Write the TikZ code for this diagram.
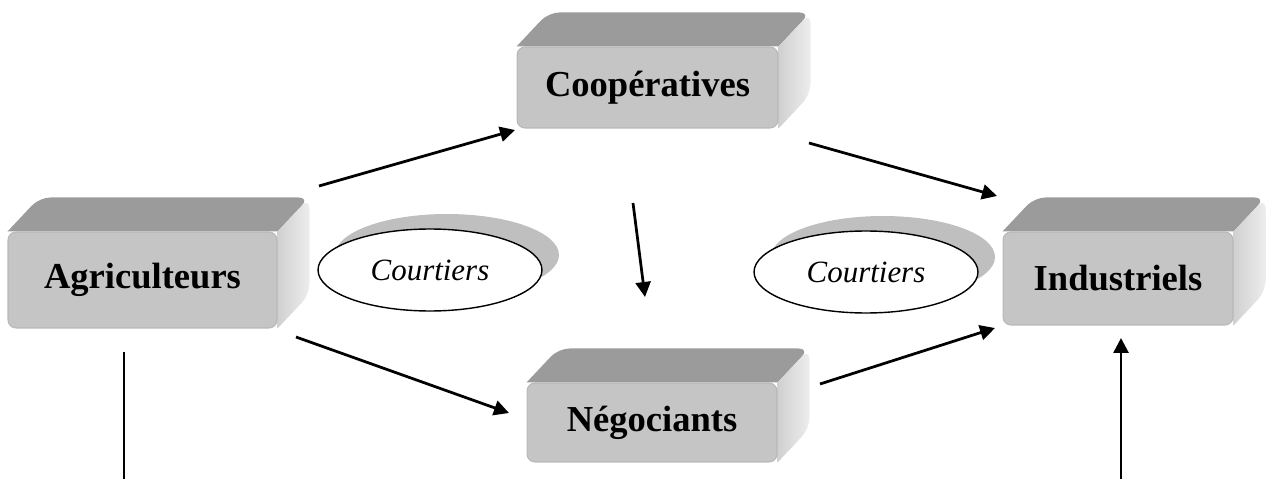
\documentclass[tikz,border=0pt]{standalone}
\usepackage{fontspec}
\setmainfont{Liberation Serif}
\usetikzlibrary{arrows.meta,shapes.geometric,shadows,backgrounds}

\definecolor{facegris}{HTML}{C5C5C5}
\definecolor{dessusgris}{HTML}{9B9B9B}
\definecolor{cotegris}{HTML}{D0D0D0}
\definecolor{cotegrisclair}{HTML}{EDEDED}

% faces arriere d'un bloc (dessus + cote)
\newcommand{\faces}[1]{%
  \fill[dessusgris] (#1.north west) [rounded corners=0.22cm]
     -- ([shift={(32,-34)}]#1.north west) -- ([shift={(32,-34)}]#1.north east)
     [sharp corners] -- (#1.north east) -- cycle;
  \shade[left color=cotegris,right color=cotegrisclair] (#1.north east) [rounded corners=0.22cm]
     -- ([shift={(32,-34)}]#1.north east) -- ([shift={(32,-34)}]#1.south east)
     [sharp corners] -- (#1.south east) -- cycle;
}

\begin{document}
\begin{tikzpicture}[x=0.02cm,y=-0.02cm,
    acteur/.style={rectangle,rounded corners=0.16cm,fill=facegris,draw=black!28,
        line width=0.6pt,inner sep=0pt,font=\fontsize{20.8}{25}\selectfont\bfseries},
    courtier/.style={ellipse,draw,fill=white,line width=0.8pt,inner sep=0pt,
        minimum width=4.48cm,minimum height=1.64cm,font=\fontsize{17.6}{21}\selectfont\itshape,
        drop shadow={shadow xshift=0.34cm,shadow yshift=0.3cm,fill=black!25,opacity=1}},
    flux/.style={line width=0.055cm,-{Triangle[length=0.3cm,width=0.3cm]}}]
%\draw (0,0) rectangle (1266,479);
\useasboundingbox (0,0) rectangle (1266,479);

\node[acteur,minimum width=5.38cm,minimum height=1.92cm] (agri) at (142.5,280) {Agriculteurs};
\node[acteur,minimum width=5.22cm,minimum height=1.62cm] (coop) at (647.5,87.5) {Coopératives};
\node[acteur,minimum width=5.0cm,minimum height=1.58cm] (nego) at (652,422.5) {Négociants};
\node[acteur,minimum width=4.6cm,minimum height=1.86cm] (indu) at (1118,278.5) {Industriels};

\begin{scope}[on background layer]
\faces{agri} \faces{coop} \faces{nego} \faces{indu}
\end{scope}

\node[courtier] (court1) at (430,270) {Courtiers};
\node[courtier] (court2) at (866,272) {Courtiers};

\coordinate (a1) at (319,186); \coordinate (a2) at (515,130);
\coordinate (b1) at (809,143); \coordinate (b2) at (997,196);
\coordinate (c1) at (633,203); \coordinate (c2) at (645,297);
\coordinate (d1) at (296,337); \coordinate (d2) at (509,413);
\coordinate (e1) at (820,384); \coordinate (e2) at (995,328);
\coordinate (f1) at (124,352); \coordinate (f2) at (124,479);
\coordinate (g1) at (1121,479); \coordinate (g2) at (1121,338);

\draw[flux] (a1)--(a2);
\draw[flux] (b1)--(b2);
\draw[flux] (c1)--(c2);
\draw[flux] (d1)--(d2);
\draw[flux] (e1)--(e2);
\draw[line width=0.045cm] (f1)--(f2);
\draw[flux] (g1)--(g2);
\end{tikzpicture}
\end{document}
